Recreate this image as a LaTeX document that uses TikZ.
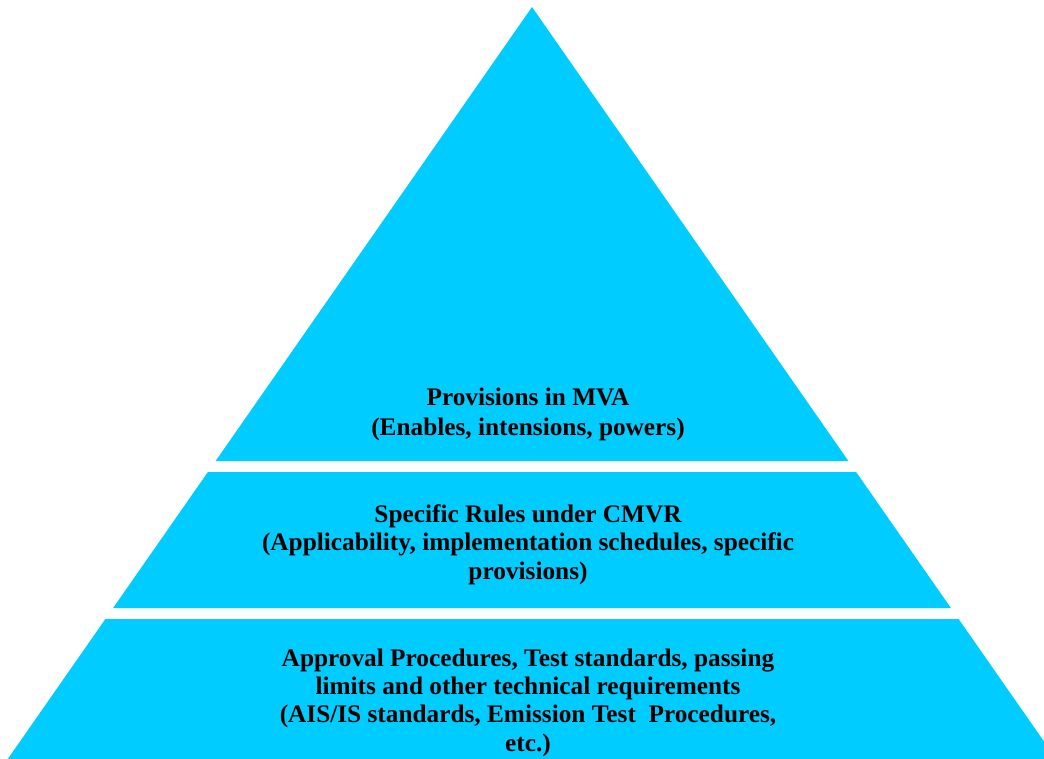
\documentclass[tikz,border=0pt]{standalone}
\usepackage{fontspec}
\setmainfont{Liberation Serif}
\definecolor{bandcyan}{RGB}{0,204,255}
\tikzset{
  band/.style={fill=bandcyan, draw=none},
  bandtext/.style={align=center, font=\fontsize{25.3}{28.3}\selectfont\bfseries, inner sep=0pt}
}
\begin{document}
\begin{tikzpicture}[x=1pt,y=-1pt]
\useasboundingbox (0,0) rectangle (1044,758);
\clip (0,0) rectangle (1044,758);
% apex (532,7), edge slope 0.697 px/px
\coordinate (apex) at (532,7);
\fill[band] (apex) -- (848.4,461) -- (215.6,461) -- cycle;
\fill[band] (207.9,472) -- (856.1,472) -- (950.9,608) -- (113.1,608) -- cycle;
\fill[band] (105.4,619) -- (958.6,619) -- (1063.9,770) -- (0.1,770) -- cycle;
\node[bandtext, font=\fontsize{25.3}{30}\selectfont\bfseries] (t1) at (528,414.5) {Provisions in MVA\\(Enables, intensions, powers)};
\node[bandtext] (t2) at (528,544.5) {Specific Rules under CMVR\\(Applicability, implementation schedules, specific\\provisions)};
\node[bandtext] (t3) at (528,702.5) {Approval Procedures, Test standards, passing\\limits and other technical requirements\\(AIS/IS standards, Emission Test\ \ Procedures,\\etc.)};
\end{tikzpicture}
\end{document}
